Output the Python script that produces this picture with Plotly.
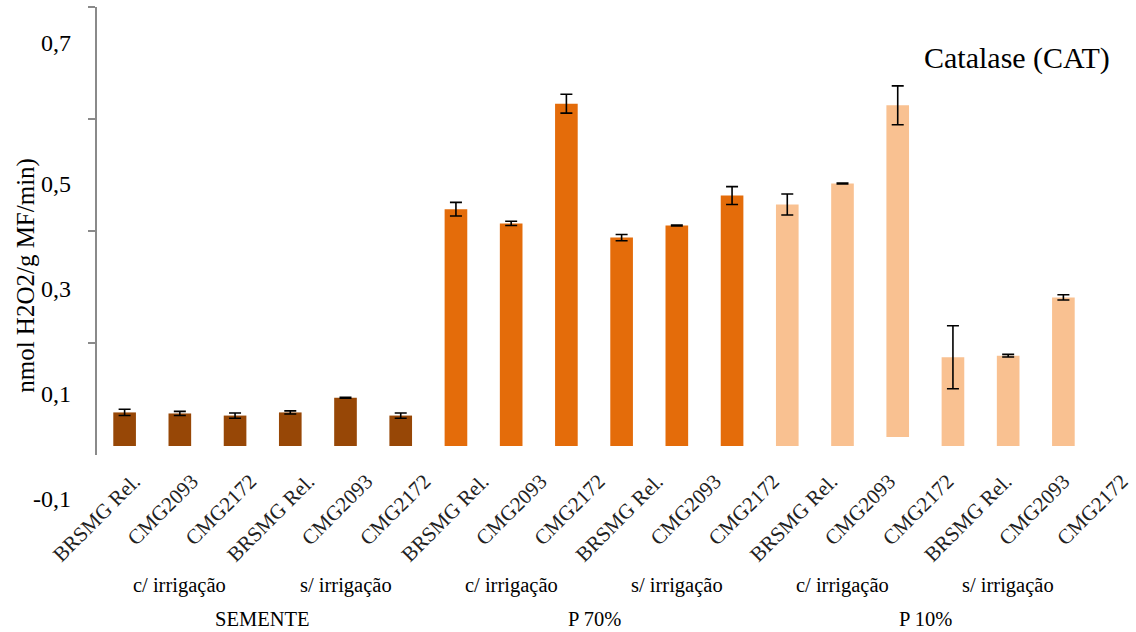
import plotly.graph_objects as go

# ---- data -------------------------------------------------------------
GROUPS = ["SEMENTE", "P 70%", "P 10%"]
IRRIGATION = ["c/ irrigação", "s/ irrigação"]
CULTIVARS = ["BRSMG Rel.", "CMG2093", "CMG2172"]

# CAT activity (nmol H2O2/g MF/min), bar tops, per group: c/ x3 then s/ x3
CAT_SEMENTE = [0.064, 0.062, 0.058, 0.064, 0.092, 0.058]
CAT_P70 = [0.451, 0.424, 0.652, 0.397, 0.420, 0.477]
CAT_P10 = [0.460, 0.500, 0.649, 0.169, 0.172, 0.283]

ERR_SEMENTE = [0.006, 0.004, 0.005, 0.003, 0.001, 0.005]
ERR_P70 = [0.013, 0.004, 0.018, 0.006, 0.001, 0.017]
ERR_P10 = [0.020, 0.001, 0.037, 0.060, 0.0025, 0.005]

# bar bottoms (one bar of P 10% does not start at zero)
BASE_SEMENTE = [0, 0, 0, 0, 0, 0]
BASE_P70 = [0, 0, 0, 0, 0, 0]
BASE_P10 = [0, 0, 0.017, 0, 0, 0]

Y_TICK_LABELS = ["-0,1", "0,1", "0,3", "0,5", "0,7"]
Y_TICK_LABEL_POS = [-0.1, 0.1, 0.3, 0.5, 0.768]

COLORS = ["#974706", "#E46C0A", "#F9C191"]

# ---- layout constants ---------------------------------------------------
W, H = 1136, 632
ML, MR, MT, MB = 97, 0, 7, 177
PLOT_W = W - ML - MR
PLOT_H = H - MT - MB
BAR_AREA_W = 994                     # width holding the 18 bar slots
Y_RANGE = [-0.0171, 0.8362]
TICK_STEP = 0.21333                  # spacing of the axis tick marks
LABEL_STEP = 58.1                    # px between category labels
LABEL_START = 134                    # px of first category label anchor

values = [CAT_SEMENTE, CAT_P70, CAT_P10]
errors = [ERR_SEMENTE, ERR_P70, ERR_P10]
bases = [BASE_SEMENTE, BASE_P70, BASE_P10]

n_per_group = len(IRRIGATION) * len(CULTIVARS)
n_total = n_per_group * len(GROUPS)


def yfrac(v):
    """data value on the y axis -> paper fraction"""
    return (v - Y_RANGE[0]) / (Y_RANGE[1] - Y_RANGE[0])


fig = go.Figure()
for g, name in enumerate(GROUPS):
    xs = [g * n_per_group + i for i in range(n_per_group)]
    sizes = [v - b for v, b in zip(values[g], bases[g])]
    fig.add_trace(go.Bar(
        x=xs, y=sizes, base=bases[g], name=name,
        width=0.41,
        marker=dict(color=COLORS[g], line=dict(width=0)),
        error_y=dict(type="data", array=errors[g], visible=True,
                     color="black", thickness=1.6, width=6),
        hoverinfo="skip", showlegend=False,
    ))

# category labels live on a second x axis
cat_labels = CULTIVARS * (len(IRRIGATION) * len(GROUPS))
fig.add_trace(go.Scatter(
    x=list(range(n_total)), y=[0] * n_total, xaxis="x2", yaxis="y",
    mode="markers", marker=dict(opacity=0), hoverinfo="skip",
    showlegend=False,
))

a = -(LABEL_START - ML) / LABEL_STEP
b = a + PLOT_W / LABEL_STEP

font = "Liberation Serif, Times New Roman, serif"

tick_vals = []
t = Y_RANGE[1]
while t > 0.1:
    tick_vals.append(t)
    t -= TICK_STEP

fig.update_layout(
    width=W, height=H,
    margin=dict(l=ML, r=MR, t=MT, b=MB, pad=0),
    paper_bgcolor="white", plot_bgcolor="rgba(0,0,0,0)",
    font=dict(family=font, color="black", size=20),
    bargap=0.59,
    xaxis=dict(domain=[0, BAR_AREA_W / PLOT_W], range=[-0.5, n_total - 0.5],
               showgrid=False, zeroline=False, showline=False,
               showticklabels=False, ticks="", fixedrange=True),
    xaxis2=dict(domain=[0, 1], range=[a, b], anchor="y",
                tickmode="array", tickvals=list(range(n_total)),
                ticktext=cat_labels, tickangle=-45, ticklabelstandoff=9,
                ticklabeloverflow="allow",
                tickfont=dict(family=font, size=21, color="#222"),
                showgrid=False, zeroline=False, showline=False, ticks=""),
    yaxis=dict(range=Y_RANGE, showgrid=False, zeroline=False,
               showline=True, linecolor="#8a8a8a", linewidth=1.6,
               ticks="outside", ticklen=7, tickcolor="#8a8a8a", tickwidth=1.6,
               tickmode="array", tickvals=tick_vals,
               showticklabels=False),
)

annotations = []
for txt, pos in zip(Y_TICK_LABELS, Y_TICK_LABEL_POS):
    annotations.append(dict(text=txt, x=0, xref="paper", y=yfrac(pos),
                            yref="paper", xanchor="right", yanchor="middle",
                            xshift=-24, showarrow=False, font=dict(size=24)))

# irrigation labels under each block of three cultivars, then the groups
for g in range(len(GROUPS)):
    for k, lab in enumerate(IRRIGATION):
        center = g * n_per_group + k * len(CULTIVARS) + (len(CULTIVARS) - 1) / 2
        annotations.append(dict(text=lab, x=center, xref="x", y=-0.292,
                                yref="paper", yanchor="middle",
                                showarrow=False, font=dict(size=20.5)))
    annotations.append(dict(text=GROUPS[g], x=g * n_per_group + (n_per_group - 1) / 2,
                            xref="x", y=-0.366, yref="paper", yanchor="middle",
                            showarrow=False, font=dict(size=20.5)))

annotations.append(dict(text="nmol H2O2/g MF/min)", textangle=-90,
                        x=0, xref="paper", xshift=-71, xanchor="center",
                        y=0.40, yref="paper", yanchor="middle",
                        showarrow=False, font=dict(size=25)))
annotations.append(dict(text="Catalase (CAT)", x=(1112 - ML) / PLOT_W,
                        xref="paper", xanchor="right",
                        y=0.886, yref="paper", yanchor="middle",
                        showarrow=False, font=dict(size=30)))

fig.update_layout(annotations=annotations)
fig.write_html("out.html")
